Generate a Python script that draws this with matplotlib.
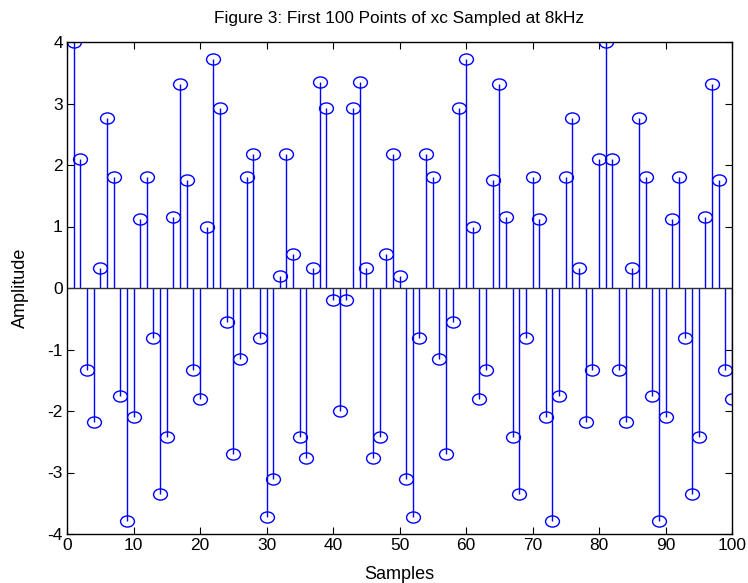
import numpy as np
import matplotlib
matplotlib.use("Agg")
import matplotlib.pyplot as plt
from matplotlib.path import Path
from matplotlib.transforms import Affine2D

# sample index and amplitudes
samples = list(range(1, 101))
amplitude = [
    4.00, 2.10, -1.33, -2.18, 0.32, 2.77, 1.81, -1.75, -3.79, -2.10,
    1.12, 1.81, -0.81, -3.35, -2.43, 1.16, 3.32, 1.75, -1.33, -1.81,
    1.00, 3.73, 2.93, -0.56, -2.70, -1.16, 1.81, 2.18, -0.81, -3.73,
    -3.11, 0.20, 2.18, 0.56, -2.43, -2.77, 0.32, 3.35, 2.93, -0.20,
    -2.00, -0.20, 2.93, 3.35, 0.32, -2.77, -2.43, 0.56, 2.18, 0.20,
    -3.11, -3.73, -0.81, 2.18, 1.81, -1.16, -2.70, -0.56, 2.93, 3.73,
    1.00, -1.81, -1.33, 1.75, 3.32, 1.16, -2.43, -3.35, -0.81, 1.81,
    1.12, -2.10, -3.79, -1.75, 1.81, 2.77, 0.32, -2.18, -1.33, 2.10,
    4.00, 2.10, -1.33, -2.18, 0.32, 2.77, 1.81, -1.75, -3.79, -2.10,
    1.12, 1.81, -0.81, -3.35, -2.43, 1.16, 3.32, 1.75, -1.33, -1.81,
]
x_ticks = list(range(0, 101, 10))
y_ticks = list(range(-4, 5))

plt.rcParams['font.family'] = ['Liberation Sans', 'DejaVu Sans']
plt.rcParams['axes.unicode_minus'] = False

# MATLAB-style circles look slightly stretched in the reference
ellipse = Path.unit_circle().transformed(Affine2D().scale(1.25, 1.0))

fig = plt.figure(figsize=(7.48, 5.83), dpi=100)
ax = fig.add_axes([67 / 748, 1 - 534 / 583, (732 - 67) / 748, (534 - 42) / 583])

markerline, stemlines, baseline = ax.stem(samples, amplitude, basefmt='-')
plt.setp(stemlines, color='#0000ff', linewidth=1.0)
plt.setp(markerline, marker=ellipse, markersize=10, markerfacecolor='none',
         markeredgecolor='#0000ff', markeredgewidth=1.0)
plt.setp(baseline, color='#303030', linewidth=1.0)
baseline.set_xdata([0, 100])

ax.set_xlim(0, 100)
ax.set_ylim(-4, 4)
ax.set_xticks(x_ticks)
ax.set_yticks(y_ticks)
ax.tick_params(direction='in', top=True, right=True, length=5, labelsize=12.5, pad=3)
for s in ax.spines.values():
    s.set_linewidth(1.0)

ax.set_title("Figure 3: First 100 Points of xc Sampled at 8kHz", fontsize=12.4, pad=14)
ax.set_xlabel("Samples", fontsize=13, labelpad=9)
ax.set_ylabel("Amplitude", fontsize=13, labelpad=13)

fig.savefig("out.png", dpi=100)
